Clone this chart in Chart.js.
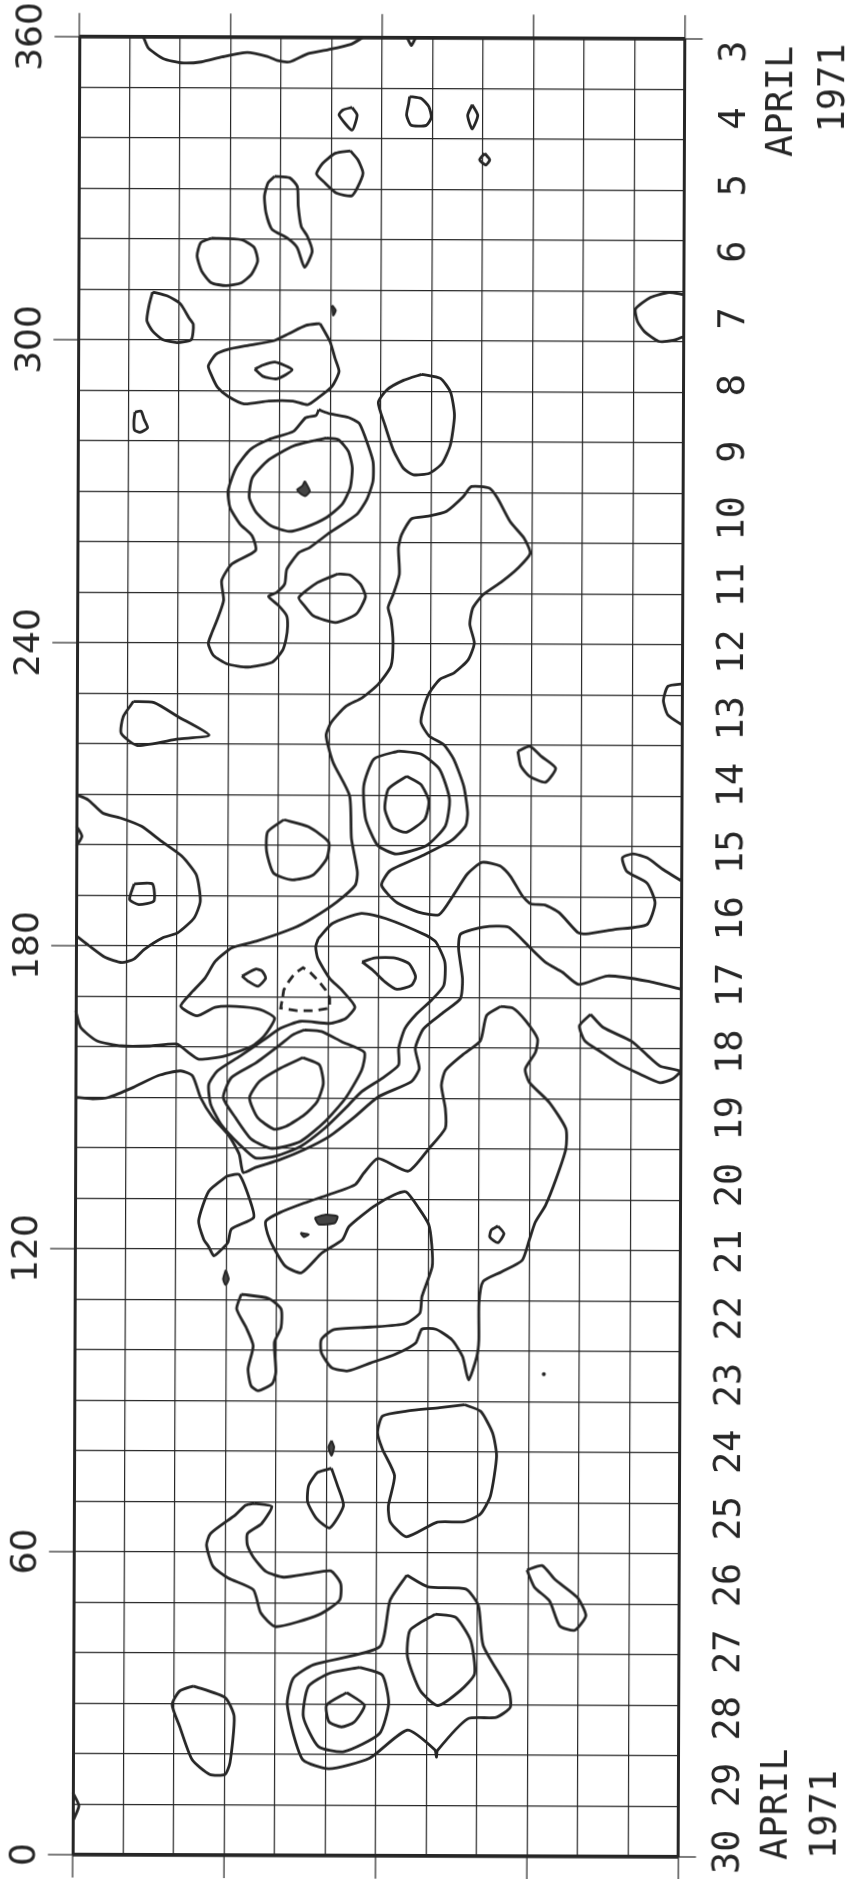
<!DOCTYPE html>
<html lang="en">
<head>
  <meta charset="UTF-8">
  <title>April 1971 contour map</title>
  <script src="https://cdn.jsdelivr.net/npm/chart.js"></script>
  <style>
    html, body { margin: 0; padding: 0; background: #fff; overflow: hidden; }
    #map { display: block; transform: rotate(0.21deg); transform-origin: 50% 50%; }
  </style>
</head>
<body>
  <canvas id="map" width="855" height="1879"></canvas>

  <script>
    // Axis values
    const lonTicks = [0, 60, 120, 180, 240, 300, 360];
    const days = [3,4,5,6,7,8,9,10,11,12,13,14,15,16,17,18,19,20,21,22,23,24,25,26,27,28,29,30];
    const majorCols = [0, 3, 6, 9, 12];
    const edgeLons = [0, 360];
    const dateNotes = [
      { text: 'APRIL', col: 13.93, lon: 347.7 },
      { text: '1971', col: 14.96, lon: 350.4 },
      { text: 'APRIL', col: 13.95, lon: 10.5 },
      { text: '1971', col: 14.93, lon: 8.5 }
    ];

    // Contours, as [column, longitude]
    const topEdge = [[1.27,360],[1.37,357.8],[1.67,355.7],[2.02,354.9],[2.42,355.1],[2.83,356.1],[3.33,357],[3.73,356.2],[3.93,355.4],[4.18,355.2],[4.53,356.8],[4.93,357.6],[5.38,358.7],[5.61,360]];
    const topNick = [[6.5,360],[6.58,358.5],[6.66,360]];
    const tri4 = [[5.41,346.2],[5.51,344.7],[5.41,341.7],[5.15,344.7],[5.23,345.7]];
    const oval4 = [[6.55,348.4],[6.78,348],[6.93,346.4],[6.98,344.3],[6.88,342.7],[6.58,342.7],[6.49,344.7],[6.53,347]];
    const dia4 = [[7.79,346.8],[7.9,344.7],[7.79,342],[7.7,344.7]];
    const dia5 = [[8.04,337.2],[8.14,335.9],[8.06,334.9],[7.94,335.9]];
    const blob5 = [[5.38,337.6],[5.53,335.8],[5.63,333.2],[5.53,330.5],[5.41,328.7],[5.11,329.2],[4.88,331.2],[4.71,333],[4.83,335.1],[5.08,337.1]];
    const long5 = [[3.88,332.5],[4.18,332.2],[4.33,330.5],[4.35,326.6],[4.41,322.6],[4.53,320.7],[4.63,317.7],[4.48,314.5],[4.33,318.4],[4.13,320.3],[3.83,322],[3.71,325.3],[3.68,328.6],[3.75,331.2]];
    const oval6 = [[2.63,320.2],[3.23,319.9],[3.48,318.4],[3.55,315.7],[3.43,313.1],[3.23,311.4],[2.93,310.8],[2.63,311.4],[2.44,313.7],[2.35,316.7],[2.42,319.3]];
    const blob7 = [[1.47,309.5],[1.77,308.7],[2.02,307.2],[2.2,304.3],[2.28,303.1],[2.24,300.1],[1.96,299.5],[1.67,300.1],[1.47,301.8],[1.36,303.8],[1.4,306.8]];
    const speck7 = [[5.03,307],[5.1,306],[5.05,305]];
    const edge7 = [[11.97,309.4],[11.7,309.8],[11.34,308.8],[11.04,306.5],[11.08,304],[11.22,302],[11.5,300.1],[11.79,300.3],[12,301.1]];
    const blob8 = [[4.79,303.4],[4.99,299.8],[5.09,296.5],[5.17,293.9],[5.03,290.9],[4.75,288.6],[4.55,287.3],[4.26,288],[3.78,288],[3.29,287.4],[2.97,288.9],[2.77,290.6],[2.65,292.9],[2.58,294.9],[2.73,297.2],[2.97,298.2],[3.37,299],[3.86,299.9],[4.18,301.4],[4.51,303]];
    const dia8 = [[3.5,294.3],[3.66,295.1],[3.9,295.7],[4.24,294.2],[3.94,292.4],[3.66,292.9]];
    const small8 = [[1.13,285.7],[1.25,285.9],[1.31,284.3],[1.38,282.6],[1.23,281.7],[1.12,282.2],[1.11,284]];
    const oval8 = [[6.81,293.4],[7.18,292.6],[7.38,289.9],[7.46,285.3],[7.38,279.4],[7.22,275.8],[6.97,273.8],[6.65,273.5],[6.45,274.8],[6.25,278.4],[6.08,283.4],[5.95,287.8],[6.12,290.3],[6.45,292.2]];
    const outer9 = [[4.77,286.3],[5,285.5],[5.36,284.8],[5.57,283.7],[5.69,281],[5.85,276.1],[5.85,272.2],[5.73,268.6],[5.53,265.6],[5,262],[4.6,259],[4.39,258],[4.15,254.7],[4.11,251.8],[3.95,250.1],[3.79,249.3],[3.99,247.5],[4.15,245.5],[4.17,243.4],[4.14,240.9],[4.07,238.6],[3.87,236.3],[3.39,235.3],[2.98,235.9],[2.7,237.6],[2.6,239.9],[2.66,241.8],[2.78,244.8],[2.9,248.5],[2.86,252.4],[3.06,255.7],[3.53,258.4],[3.46,261.3],[3.22,263.6],[3.02,266.9],[2.98,270.2],[3.14,274.8],[3.42,278.4],[3.79,280.4],[4.27,282],[4.51,284.7],[4.72,285.2]];
    const inner9 = [[4.92,280.7],[5.16,280.4],[5.36,278.1],[5.44,274.8],[5.4,270.9],[5.24,267.6],[4.92,264.9],[4.51,263],[4.19,262.2],[3.83,263.3],[3.54,265.9],[3.4,268.9],[3.46,272.8],[3.79,276.4],[4.27,279.1],[4.68,280.2]];
    const core9 = [[4.5,272.2],[4.6,270.2],[4.51,269.2],[4.39,269.9],[4.35,270.5],[4.45,271.2]];
    const oval11 = [[5.16,253.8],[5.4,253.6],[5.61,251.8],[5.71,249.3],[5.53,245.9],[5.12,244.2],[4.68,245.5],[4.5,247.5],[4.39,249.1],[4.76,252.1]];
    const ridgeA = [[0,167.1],[0.1,163.8],[0.42,161.2],[0.91,160.2],[1.47,160.2],[2,160.6],[2.24,158.9],[2.44,157.6],[2.93,158.2],[3.49,160.2],[3.73,162.2],[3.94,165.8],[3.65,167.5],[3.17,168.1],[2.76,167.9],[2.4,166.2],[2.08,168.1],[2.32,171.1],[2.56,173.7],[2.76,177],[3.09,179.7],[3.57,181],[4.3,183.6],[4.68,185.6],[5.17,188.9],[5.53,192.2],[5.57,194.8],[5.45,201.4],[5.41,209.9],[5.08,216.5],[4.94,221.8],[5.04,224.4],[5.33,227.6],[5.65,229.3],[5.97,232],[6.22,235.6],[6.26,240.2],[6.22,244.8],[6.16,247.2],[6.26,249.8],[6.38,253.8],[6.36,259],[6.42,261.6],[6.62,264.8],[6.95,265.3],[7.31,266.3],[7.64,269.2],[7.8,271.2],[8.16,270.9],[8.32,268.9],[8.57,264.3],[8.85,261],[8.97,258],[8.73,255.1],[8.41,252.4],[8.04,249.8],[7.84,247.2],[7.78,243.9],[7.87,240.2],[7.75,236.9],[7.47,234.3],[7.19,233],[6.98,230.3],[6.86,227],[6.82,224.4],[6.98,221.8],[7.27,220.1],[7.47,217.2],[7.67,211.9],[7.75,206.6],[7.71,204],[7.43,201.1],[6.86,198.1],[6.22,195.1],[6.05,192.2],[6.34,188.9],[6.78,186.9],[7.19,186.4],[7.47,190.2],[7.75,194.5],[8.04,196.8],[8.4,196.1],[8.6,194.1],[8.84,190.2],[9.01,188.6],[9.29,188.4],[9.57,186.9],[9.94,183],[10.1,182.7],[10.66,183.6],[11.31,184.6],[11.47,188.9],[11.31,192.8],[10.91,195.1],[10.82,197.8],[11.03,198.6],[11.31,197.8],[11.63,195.5],[12,193.2]];
    const ridgeB = [[0,150],[0.34,149.7],[0.66,150],[1.15,152],[1.63,154.3],[2.08,155.3],[2.32,154.3],[2.48,150],[2.72,146.1],[3.05,142.4],[3.25,138.8],[3.33,135.2],[3.57,136.2],[4.06,137.8],[4.54,139.8],[5.03,142.4],[5.51,146.1],[6,150.3],[6.65,153.3],[6.81,155.9],[6.73,159.9],[6.89,163.8],[7.29,167.1],[7.62,169.8],[7.66,173.7],[7.58,179.7],[7.62,182.6],[8.08,184],[8.56,184],[8.99,180],[9.31,177],[9.64,175.1],[9.96,172.7],[10.53,174.4],[11.33,173.4],[12,171.8]];
    const lobeLeft = [[0,209.9],[0.23,208.9],[0.52,206.3],[0.88,205.3],[1.29,203.7],[1.69,200.7],[2.09,197.8],[2.38,194.1],[2.46,188.9],[2.34,185.6],[2.01,182.6],[1.71,181.6],[1.35,179.3],[1.15,177.4],[0.91,176.7],[0.58,177.7],[0.26,180],[0,182]];
    const ring2 = [[4.8,181.6],[5.08,184.6],[5.65,186.6],[6.14,185.6],[6.94,182.3],[7.13,181],[7.31,177],[7.29,172.4],[7.05,169.5],[6.73,166.5],[6.52,163.8],[6.4,159.9],[6.4,156.6],[6.08,154],[5.67,151.3],[5.35,148],[4.95,144.1],[4.46,140.4],[3.98,138.5],[3.57,138.1],[3.25,140.8],[2.89,144.7],[2.68,148.7],[2.64,152.6],[2.81,155.3],[3.25,158.2],[3.73,161.5],[4.06,163.8],[4.46,165.2],[5.03,164.8],[5.35,165.8],[5.53,168.1],[5.27,171.4],[5.03,173.7],[4.79,177.7],[4.75,180]];
    const ring3 = [[4.53,163.5],[4.87,163.2],[5.27,161.2],[5.72,159.1],[5.67,155.6],[5.35,150],[4.95,145.4],[4.46,141.4],[3.9,140],[3.49,141.8],[3.17,146.1],[2.93,150],[3.09,154],[3.57,156.9],[4.06,160.6],[4.3,162.5]];
    const ring4 = [[4.5,158],[4.83,156.6],[4.91,152.9],[4.79,149.3],[4.54,146.7],[4.18,144.4],[3.94,143.8],[3.61,146.1],[3.45,150],[3.65,153.3],[4.06,155.9]];
    const small17 = [[3.29,174.1],[3.57,175.5],[3.69,175.1],[3.76,173.7],[3.61,172.1],[3.41,173.1]];
    const lobe17 = [[5.67,177],[5.92,177.8],[6.32,177.8],[6.6,176.7],[6.73,174.1],[6.65,172.4],[6.36,171.6],[6.12,173.1],[5.88,175.4]];
    const dashed17 = [[4.1,170.1],[4.12,171.4],[4.22,173.1],[4.34,174.7],[4.5,175.8],[4.62,175.1],[4.79,173.4],[4.95,171.4],[5.03,169.8],[5.03,167.8],[4.71,167.3],[4.38,167.3],[4.06,167.8]];
    const wide20 = [[8.42,168.3],[8.14,166.5],[8.02,161.5],[7.66,158.6],[7.33,155.6],[7.25,152.6],[7.33,148],[7.33,144.1],[7.01,140.1],[6.6,135.6],[6,138.1],[5.72,135.2],[5.55,132.9],[5.03,130.9],[4.54,129.2],[4.06,127.3],[3.78,125.6],[3.82,123],[3.94,120.3],[4.17,116.7],[4.49,115.4],[4.89,119.3],[5.3,122],[5.43,124.6],[5.92,128.6],[6.32,130.9],[6.56,131.5],[6.81,128.3],[7.01,125],[7.07,121],[7.08,116.7],[6.88,110.8],[6.84,107.5],[6.55,105.4],[5.87,104.7],[5.14,104.2],[4.89,102.2],[4.89,99.6],[5.1,96.6],[5.42,96],[5.87,97.6],[6.35,99.3],[6.76,101.6],[6.88,104.3],[7.16,104.3],[7.48,102.2],[7.69,98.9],[7.81,94.3],[7.97,98.9],[8.01,102.2],[8.01,109.5],[8.09,113.8],[8.45,115.7],[8.86,118],[9,122],[9.12,125.6],[9.32,128.9],[9.53,134.2],[9.72,140.1],[9.72,144.1],[9.39,149.3],[8.99,153.3],[8.91,155.9],[9.11,159.2],[9.15,161.9],[8.91,165.5],[8.67,167.9]];
    const kite13 = [[1.12,228.4],[1.53,228.2],[2.01,225.4],[2.62,221.8],[2.01,221],[1.2,219.7],[0.88,222.1],[0.92,225.4]];
    const ring14a = [[6.38,218.8],[6.82,218.2],[7.19,215.2],[7.39,209.3],[7.31,204],[6.94,200.1],[6.34,198.4],[5.97,200.1],[5.73,205.3],[5.69,211.9],[5.89,217.2]];
    const ring14b = [[6.54,213.8],[6.82,212.2],[6.98,208.9],[6.9,205.3],[6.54,202.7],[6.26,203.7],[6.11,207.3],[6.18,211.3]];
    const small14 = [[8.74,218.8],[8.98,219.8],[9.21,217.8],[9.49,215.5],[9.29,212.7],[8.97,213.9],[8.8,215.9]];
    const blob15 = [[4.11,205.1],[4.6,203.7],[5,200.7],[4.96,197.4],[4.68,194.1],[4.28,193.2],[3.91,194.5],[3.77,198.8],[3.79,202.7]];
    const square16 = [[1.15,192.3],[1.51,192.3],[1.54,188.9],[1.24,188.2],[1.06,189.2]];
    const edge13 = [[12,232.3],[11.71,231.8],[11.62,229],[11.71,226.1],[12,224.1]];
    const nickLeft = [[0,203.7],[0.11,201.7],[0,199.7]];
    const lobe18 = [[10.2,166.8],[10.45,164.2],[11.01,161.5],[11.34,158.6],[11.58,156.6],[11.98,155.6],[11.82,154],[11.58,153.3],[11.18,155],[10.78,156.9],[10.37,159.6],[10.09,161.5],[9.98,164.5]];
    const blob20 = [[3.01,134.5],[3.25,134.8],[3.46,129.9],[3.54,126.3],[3.1,124],[3.03,121.3],[2.85,119.4],[2.75,118.7],[2.65,120.5],[2.55,122],[2.45,125.6],[2.65,131.5]];
    const dia21 = [[8.38,124.8],[8.5,123.3],[8.38,121.5],[8.22,122.6],[8.25,124]];
    const fleck21a = [[4.75,126.3],[4.95,126.9],[5.2,126.6],[5.15,125.3],[4.83,125]];
    const fleck21b = [[4.47,123.3],[4.63,123],[4.53,122.5]];
    const sliver21 = [[2.99,115.9],[3.05,114.1],[2.99,112.9],[2.94,114.1]];
    const blob22 = [[3.3,111.1],[3.84,110.3],[4.09,108.2],[4.09,104.5],[3.96,101.6],[3.99,95.7],[3.92,93.4],[3.64,92],[3.5,93],[3.44,96.3],[3.54,100.9],[3.4,104.5],[3.21,108.2]];
    const square24 = [[7.73,89.4],[8.05,88.1],[8.29,83.8],[8.37,79.2],[8.25,71.3],[8.05,67.7],[7.73,66.2],[7.2,66.1],[6.59,63.2],[6.27,66.1],[6.23,69.3],[6.35,75.3],[6.11,80.5],[6.01,83.8],[6.11,87.1],[6.59,88.1],[7.24,88.8]];
    const oval25 = [[5.1,76.7],[5.22,73.3],[5.34,69.3],[5.07,64.9],[4.81,66.7],[4.63,70],[4.65,73.3],[4.83,75.9]];
    const sliver24 = [[5.1,82.2],[5.15,80.9],[5.1,79.2],[5.04,80.9]];
    const lobe26 = [[3.58,69.7],[3.92,69.1],[3.72,65.7],[3.44,63.7],[3.44,61.4],[3.56,59],[3.81,56.2],[4.16,55.1],[4.66,55.8],[5.09,56.4],[5.29,53.9],[5.27,50.6],[4.86,47.7],[4.01,45.3],[3.71,48],[3.56,52.6],[3.06,54.9],[2.76,57.2],[2.63,61.4],[2.71,63.7],[3.2,67.4],[3.4,69.3]];
    const small26 = [[8.98,56.7],[9.28,57.6],[9.53,54.9],[9.98,51.3],[10.15,47.7],[9.93,44.8],[9.63,45.7],[9.43,50.6],[9.13,53.3]];
    const big27 = [[6.6,55.6],[7.02,53.3],[7.77,52.9],[8.02,49.6],[8.12,41.7],[8.63,32.8],[8.66,29.5],[8.38,27.5],[7.82,27.2],[7.22,20.9],[7.2,19.6],[7.17,21],[6.62,24.9],[5.87,19.3],[5.07,17.2],[4.56,18.9],[4.36,24.2],[4.24,30.2],[4.36,35.1],[4.76,37.8],[6.07,41.4],[6.27,50.6]];
    const mid27 = [[7.17,47.9],[7.57,47.3],[7.87,42.7],[7.95,36.1],[7.67,32.8],[7.22,29.8],[6.87,32.8],[6.62,39.4],[6.67,44.7]];
    const ring28a = [[5.67,37.3],[6.12,35.8],[6.25,30.2],[6.07,24.2],[5.37,20.6],[4.86,21.6],[4.56,27.5],[4.66,33.5],[5.07,36.1]];
    const ring28b = [[5.42,32.3],[5.77,29.8],[5.57,26.5],[5.32,25.5],[5.07,26.5],[5.02,29.8]];
    const oval28 = [[2.38,33.5],[3.01,31.2],[3.19,27.5],[3.11,18.3],[3.01,16],[2.71,16],[2.36,18.9],[2.11,25.5],[1.96,29.8],[2.11,32.5]];
    const nickBottom = [[0,12.3],[0.12,9.7],[0.02,7]];
    const strayDot = [[9.3,95.5]];

    const openLines = [topEdge, topNick, edge7, ridgeA, ridgeB, lobeLeft, edge13, nickLeft, nickBottom];
    const closedLines = [tri4, oval4, dia4, dia5, blob5, long5, oval6, blob7, blob8, dia8, small8, oval8, outer9, inner9, oval11,
      ring2, ring3, ring4, small17, lobe17, wide20, kite13, ring14a, ring14b, small14, blob15, square16, lobe18, blob20, dia21,
      blob22, square24, oval25, lobe26, small26, big27, mid27, ring28a, ring28b, oval28];
    const filledSpots = [speck7, core9, fleck21a, fleck21b, sliver21, sliver24];

    const INK = '#262626';
    const toXY = p => ({ x: p[0], y: p[1] });

    function contour(points, extra) {
      return Object.assign({
        data: points.map(toXY), showLine: true, pointRadius: 0, borderColor: INK,
        borderWidth: 2.8, tension: 0.2, clip: false
      }, extra || {});
    }
    function tickLine(a, b) {
      return { data: [a, b], showLine: true, pointRadius: 0, borderColor: INK, borderWidth: 1.2, clip: false };
    }

    const datasets = [];
    openLines.forEach(l => datasets.push(contour(l)));
    closedLines.forEach(l => datasets.push(contour(l.concat([l[0]]))));
    filledSpots.forEach(l => datasets.push(contour(l.concat([l[0]]), { fill: 'shape', backgroundColor: '#444', borderWidth: 2 })));
    datasets.push(contour(dashed17.concat([dashed17[0]]), { borderDash: [9, 6], tension: 0 }));
    datasets.push({ data: strayDot.map(toXY), pointRadius: 2, pointBackgroundColor: INK, pointBorderWidth: 0 });
    // day dots on the right
    datasets.push({ data: days.map(d => ({ x: 12.35, y: d })), yAxisID: 'y2', pointRadius: 2.5, pointBackgroundColor: INK, pointBorderWidth: 0, clip: false });
    // ticks running past the frame
    majorCols.forEach(c => {
      datasets.push(tickLine({ x: c, y: 360 }, { x: c, y: 364.7 }));
      datasets.push(tickLine({ x: c, y: 0 }, { x: c, y: -4.7 }));
    });
    lonTicks.forEach(v => datasets.push(tickLine({ x: -0.49, y: v }, { x: 0, y: v })));
    edgeLons.forEach(v => datasets.push(tickLine({ x: 12, y: v }, { x: 12.35, y: v })));

    // APRIL 1971 notes
    const notesPlugin = {
      id: 'dateNotes',
      afterDraw(chart) {
        const ctx = chart.ctx;
        ctx.save();
        ctx.font = '37px "DejaVu Sans Mono"';
        ctx.fillStyle = INK;
        ctx.textAlign = 'center';
        ctx.textBaseline = 'middle';
        dateNotes.forEach(n => {
          ctx.save();
          ctx.translate(chart.scales.x.getPixelForValue(n.col), chart.scales.y.getPixelForValue(n.lon));
          ctx.rotate(-Math.PI / 2);
          ctx.fillText(n.text, 0, 0);
          ctx.restore();
        });
        ctx.restore();
      }
    };

    // the rotated labels would otherwise pull the plot in from top and bottom
    function fixAxis(width) {
      return s => { s.width = width; s.paddingTop = 0; s.paddingBottom = 0; };
    }

    new Chart(document.getElementById('map').getContext('2d'), {
      type: 'scatter',
      data: { datasets },
      plugins: [notesPlugin],
      options: {
        responsive: false,
        animation: false,
        layout: { autoPadding: false, padding: { top: 38, bottom: 23, left: 0, right: 0 } },
        plugins: { legend: { display: false }, tooltip: { enabled: false } },
        scales: {
          x: {
            type: 'linear', min: 0, max: 12,
            ticks: { display: false, stepSize: 1 },
            border: { display: false },
            grid: { color: INK, drawTicks: false, lineWidth: c => (c.tick && (c.tick.value === 0 || c.tick.value === 12)) ? 3 : 1.2 }
          },
          y: {
            type: 'linear', min: 0, max: 360,
            afterFit: fixAxis(76),
            border: { display: false },
            ticks: {
              stepSize: 10, autoSkip: false, minRotation: 90, maxRotation: 90, crossAlign: 'center', padding: 13,
              color: INK, font: { family: '"DejaVu Sans"', size: 36 },
              callback: v => lonTicks.includes(v) ? String(v) : ''
            },
            grid: { color: INK, drawTicks: false, lineWidth: c => (c.tick && (c.tick.value === 0 || c.tick.value === 360)) ? 3.8 : 1.2 }
          },
          y2: {
            type: 'linear', position: 'right', min: 2.81, max: 30.08, reverse: true,
            afterFit: fixAxis(173.3),
            afterBuildTicks: s => { s.ticks = days.map(d => ({ value: d })); },
            border: { display: false },
            grid: { display: false, drawTicks: false },
            ticks: {
              autoSkip: false, minRotation: 90, maxRotation: 90, crossAlign: 'center', padding: 28,
              color: INK, font: { family: '"DejaVu Sans Mono"', size: 37 },
              callback: v => String(v)
            }
          }
        }
      }
    });
  </script>
</body>
</html>
